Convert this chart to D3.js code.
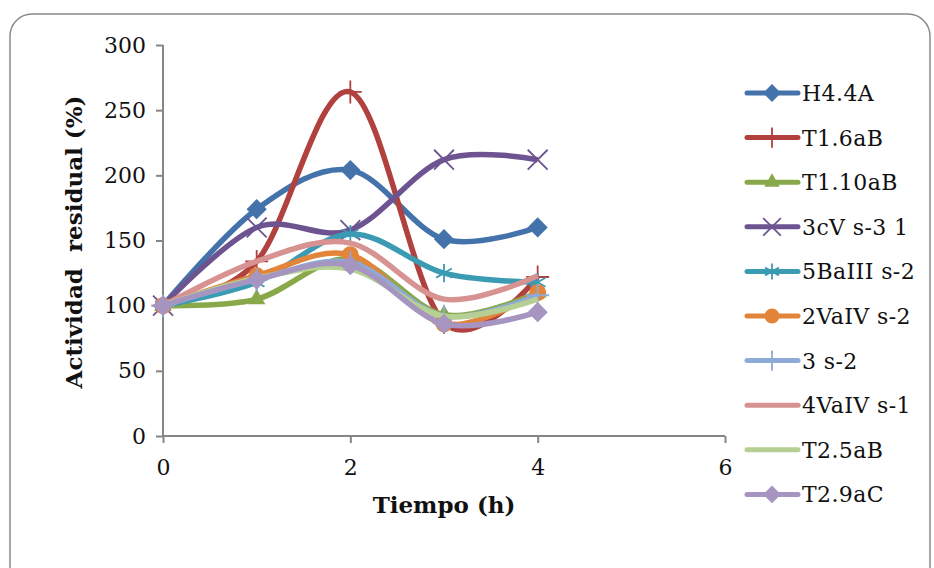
<!DOCTYPE html>
<html>
<head>
<meta charset="utf-8">
<script src="https://cdn.jsdelivr.net/npm/d3@7"></script>
<style>
  body { margin: 0; background: #fff; }
  text { font-family: Georgia, "DejaVu Serif", serif; fill: #111; }
</style>
</head>
<body>
<div id="chart"></div>
<script>
// hours
var times = [0, 1, 2, 3, 4];
var yTicks = [0, 50, 100, 150, 200, 250, 300];
var xTicks = [0, 2, 4, 6];

var names = ["H4.4A", "T1.6aB", "T1.10aB", "3cV s-3 1", "5BaIII s-2",
             "2VaIV s-2", "3 s-2", "4VaIV s-1", "T2.5aB", "T2.9aC"];

var h44a    = [100, 174, 204, 151, 160];
var t16ab   = [100, 134, 264, 87, 122];
var t110ab  = [100, 105, 136, 93, 110];
var cv3     = [100, 160, 158, 212, 212];
var baIII5  = [100, 118, 155, 125, 118];
var vaIV2   = [100, 123, 139, 86, 110];
var s2_3    = [100, 120, 133, 92, 108];
var vaIV4   = [100, 134, 148, 105, 123];
var t25ab   = [100, 121, 128, 92, 105];
var t29ac   = [100, 120, 131, 86, 95];

var values = [h44a, t16ab, t110ab, cv3, baIII5, vaIV2, s2_3, vaIV4, t25ab, t29ac];
var colors = ["#4472aa", "#b0413e", "#89a84a", "#6d5390", "#3b9bb3",
              "#e3843b", "#8eaad6", "#d79391", "#b6cf93", "#a595c0"];
var markers = ["diamond", "plus", "triangle", "x", "star", "circle", "plus", "none", "none", "diamond"];

var W = 934, H = 568;
var svg = d3.select("#chart").append("svg")
  .attr("width", W).attr("height", H);

svg.append("rect")
  .attr("x", 10).attr("y", 14).attr("width", 920).attr("height", 600)
  .attr("rx", 22)
  .attr("fill", "#fff").attr("stroke", "#8a8a8a").attr("stroke-width", 1.5);

var x = d3.scaleLinear().domain([0, 6]).range([163, 725]);
var y = d3.scaleLinear().domain([0, 300]).range([436, 45]);

// axes
var gy = svg.append("g").attr("transform", "translate(163,0)")
  .call(d3.axisLeft(y).tickValues(yTicks).tickSize(7).tickPadding(10).tickFormat(d3.format("d")));
var gx = svg.append("g").attr("transform", "translate(0,436)")
  .call(d3.axisBottom(x).tickValues(xTicks).tickSize(7).tickPadding(16).tickFormat(d3.format("d")));
[gx, gy].forEach(function(g) {
  g.selectAll("path, line").attr("stroke", "#868686").attr("stroke-width", 2);
  g.selectAll("text").style("font-size", "22px").style("font-family", "Georgia, 'DejaVu Serif', serif").attr("fill", "#111");
});
gx.select(".domain").attr("d", "M163,0H725");
gy.select(".domain").attr("d", "M0,436V45");

svg.append("text")
  .attr("x", 444).attr("y", 513)
  .attr("text-anchor", "middle")
  .style("font-size", "23px").style("font-weight", "bold")
  .text("Tiempo (h)");

svg.append("text")
  .attr("transform", "translate(82,242) rotate(-90)")
  .attr("text-anchor", "middle")
  .style("font-size", "23px").style("font-weight", "bold")
  .attr("xml:space", "preserve")
  .style("white-space", "pre")
  .text("Actividad  residual (%)");

function drawMarker(g, type, color, cx, cy, s) {
  var t = "translate(" + cx + "," + cy + ")";
  if (type === "diamond") {
    g.append("path").attr("d", d3.symbol(d3.symbolDiamond2, s * s * 0.9)())
      .attr("transform", t).attr("fill", color);
  } else if (type === "triangle") {
    g.append("path").attr("d", d3.symbol(d3.symbolTriangle2, s * s * 0.75)())
      .attr("transform", t).attr("fill", color);
  } else if (type === "circle") {
    g.append("circle").attr("cx", cx).attr("cy", cy).attr("r", s * 0.5).attr("fill", color);
  } else if (type === "plus") {
    g.append("path").attr("d", d3.symbol(d3.symbolPlus, s * s * 0.6)())
      .attr("transform", t)
      .attr("fill", "none").attr("stroke", color).attr("stroke-width", 1.8);
  } else if (type === "x") {
    g.append("path").attr("d", d3.symbol(d3.symbolTimes, s * s * 0.9)())
      .attr("transform", t)
      .attr("fill", "none").attr("stroke", color).attr("stroke-width", 1.8);
  } else if (type === "star") {
    g.append("path").attr("d", d3.symbol(d3.symbolAsterisk, s * s * 0.8)())
      .attr("transform", t)
      .attr("fill", "none").attr("stroke", color).attr("stroke-width", 1.8);
  }
}

var line = d3.line()
  .x(function(d, i) { return x(times[i]); })
  .y(function(d) { return y(d); })
  .curve(d3.curveCatmullRom.alpha(0));

values.forEach(function(v, k) {
  var g = svg.append("g");
  g.append("path").datum(v)
    .attr("d", line)
    .attr("fill", "none")
    .attr("stroke", colors[k])
    .attr("stroke-width", 5.5)
    .attr("stroke-linejoin", "round");
  v.forEach(function(d, i) {
    drawMarker(g, markers[k], colors[k], x(times[i]), y(d), 17);
  });
});

// legend
var leg = svg.append("g");
names.forEach(function(n, k) {
  var ly = 93 + k * 44.6;
  var g = leg.append("g");
  g.append("line")
    .attr("x1", 747).attr("x2", 798).attr("y1", ly).attr("y2", ly)
    .attr("stroke", colors[k]).attr("stroke-width", 5).attr("stroke-linecap", "round");
  drawMarker(g, markers[k], colors[k], 772, ly, 15);
  g.append("text")
    .attr("x", 802).attr("y", ly + 8)
    .style("font-size", "22px")
    .style("letter-spacing", "0.4px")
    .text(n);
});
</script>
</body>
</html>
